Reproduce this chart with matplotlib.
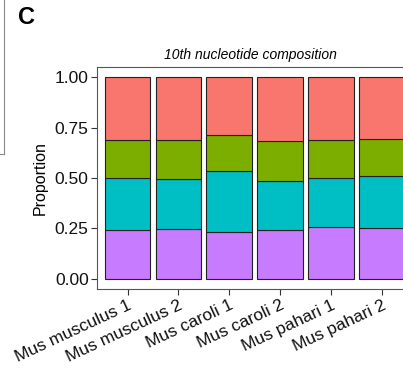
import numpy as np
import matplotlib
matplotlib.use("Agg")
import matplotlib.pyplot as plt
from matplotlib.lines import Line2D

plt.rcParams['font.family'] = ['Liberation Sans', 'DejaVu Sans']

samples = ['Mus musculus 1', 'Mus musculus 2', 'Mus caroli 1',
           'Mus caroli 2', 'Mus pahari 1', 'Mus pahari 2']
# stacked bottom -> top
nuc_T = [0.244, 0.247, 0.233, 0.241, 0.258, 0.254]
nuc_G = [0.254, 0.246, 0.304, 0.242, 0.240, 0.256]
nuc_C = [0.191, 0.196, 0.177, 0.198, 0.192, 0.185]
nuc_A = [0.311, 0.311, 0.286, 0.319, 0.310, 0.305]

layers = [nuc_T, nuc_G, nuc_C, nuc_A]
colors = ['#C77CFF', '#00BFC4', '#7CAE00', '#F8766D']

fig = plt.figure(figsize=(4.03, 3.68), dpi=100)
W, H = 403, 368
# panel from x=97 to x=412.6 (cut off by figure edge), y=67 to y=289
ax = fig.add_axes([97 / W, 1 - 289 / H, (412.6 - 97) / W, (289 - 67) / H])

x = np.arange(1, len(samples) + 1)
bottom = np.zeros(len(samples))
for vals, col in zip(layers, colors):
    ax.bar(x, vals, width=0.9, bottom=bottom, color=col,
           edgecolor='#222222', linewidth=0.8)
    bottom += np.array(vals)

ax.set_xlim(0.4, 6.6)
ax.set_ylim(-0.05, 1.05)
ax.set_yticks([0, 0.25, 0.5, 0.75, 1.0])
ax.set_yticklabels(['0.00', '0.25', '0.50', '0.75', '1.00'], fontsize=12.5, color='#111111')
ax.set_xticks(x)
ax.set_xticklabels(samples, rotation=25, ha='right', rotation_mode='anchor',
                   fontsize=12.5, color='#111111')
ax.tick_params(axis='both', length=4, width=0.8, color='#333333', pad=2)
for s in ax.spines.values():
    s.set_color('#555555')
    s.set_linewidth(0.8)

ax.set_ylabel('Proportion', fontsize=11.5, labelpad=5)
ax.set_title('10th nucleotide composition', fontsize=10, style='italic',
             x=(250 - 97) / (412.6 - 97), pad=6)

fig.text(18 / W, 1 - 18 / H, 'C', fontsize=17, fontweight='bold', va='center')

# fragment of the neighbouring panel on the left
fig.add_artist(Line2D([4 / W, 4 / W], [1, 1 - 154 / H], color='#888888', lw=0.8,
                      transform=fig.transFigure))
fig.add_artist(Line2D([0, 4 / W], [1 - 154 / H, 1 - 154 / H], color='#888888', lw=0.8,
                      transform=fig.transFigure))

fig.savefig('out.png', dpi=100)
